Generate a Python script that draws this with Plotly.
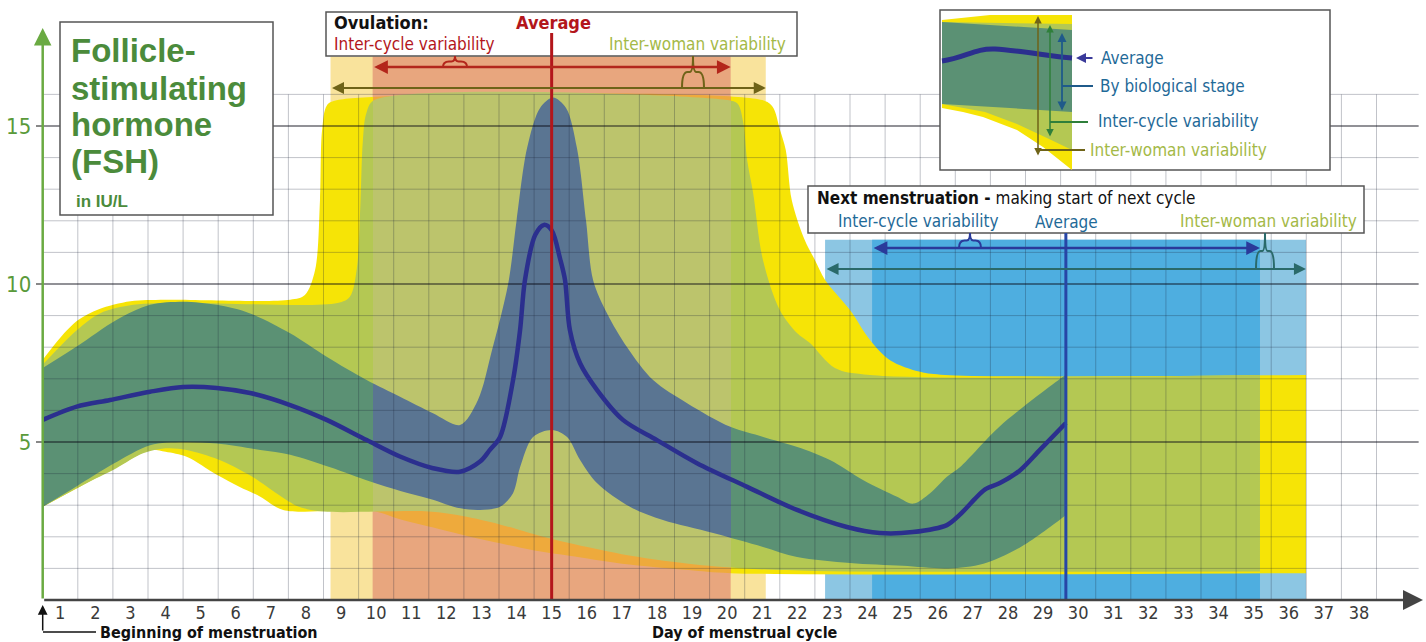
import plotly.graph_objects as go

W, H = 1426, 642
# data-axis ranges chosen so the whole figure is the plotting area
X_LEFT, X_RIGHT = -0.7165, 39.910
Y_BOT, Y_TOP = -1.3291, 18.987

# ---------------- DATA ----------------
days = list(range(1, 39))
y_ticks = [5, 10, 15]

# Average FSH level
avg_x = [0.5, 1.47, 2.42, 3.56, 4.5, 5.46, 6.41, 7.55, 8.59, 9.73, 10.68, 11.62, 12.39, 12.96, 13.24,
         13.53, 13.9, 14.1, 14.24, 14.53, 14.78, 15.0, 15.24, 15.38, 15.52, 15.81, 16.29, 17.03, 18.0,
         19.14, 20.57, 21.99, 23.41, 24.35, 25.29, 26.26, 26.63, 27.06, 27.35, 27.77, 28.34, 28.91, 29.65]
avg_y = [5.70, 6.12, 6.33, 6.59, 6.74, 6.71, 6.55, 6.17, 5.70, 5.06, 4.54, 4.17, 4.06, 4.38, 4.75,
         5.16, 6.96, 8.54, 10.13, 11.55, 11.87, 11.7, 10.8, 10.13, 8.54, 7.49, 6.65, 5.70, 5.06,
         4.33, 3.58, 2.85, 2.31, 2.12, 2.15, 2.37, 2.7, 3.2, 3.5, 3.7, 4.1, 4.75, 5.6]

# By biological stage (dark band)
bio_up_x = [0.5, 1.47, 2.6, 3.56, 4.5, 5.46, 6.41, 7.55, 8.59, 9.73, 10.68, 11.62, 12.39, 12.9, 13.3,
            13.76, 14.0, 14.3, 14.67, 15.04, 15.41, 15.72, 15.98, 16.18, 16.58, 17.15, 17.89, 18.86,
            20.09, 21.03, 22.0, 22.93, 23.87, 24.84, 25.3, 25.78, 26.26, 26.63, 27.77, 29.55, 29.65]
bio_up_y = [7.34, 8.02, 8.86, 9.34, 9.44, 9.34, 9.07, 8.44, 7.70, 6.96, 6.43, 5.91, 5.54, 6.33, 7.9,
            10.0, 12.0, 14.3, 15.57, 15.9, 15.57, 14.3, 12.0, 10.13, 9.07, 8.0, 6.96, 6.23,
            5.48, 5.16, 4.84, 4.43, 3.8, 3.27, 3.05, 3.38, 3.9, 4.2, 5.5, 7.05, 7.12]
bio_lo_x = [0.5, 1.47, 2.5, 3.56, 4.5, 5.46, 6.7, 7.55, 8.69, 9.83, 10.69, 11.54, 12.4, 12.96, 13.53,
            13.9, 14.1, 14.47, 15.01, 15.44, 15.81, 16.29, 17.23, 18.17, 19.6, 21.02, 21.99, 23.5,
            25.0, 26.3, 27.3, 28.4, 29.55, 29.65]
bio_lo_y = [2.95, 3.6, 4.3, 4.9, 5.0, 4.95, 4.75, 4.6, 4.2, 3.75, 3.45, 3.2, 2.9, 2.85, 2.95,
            3.38, 4.2, 5.16, 5.38, 5.16, 4.43, 3.7, 2.95, 2.53, 2.12, 1.68, 1.36, 1.17,
            1.08, 1.0, 1.15, 1.7, 2.6, 2.7]

# Inter-cycle variability (light green)
cyc_up_x = [0.5, 1.47, 2.13, 3.08, 4.5, 8.9, 9.25, 9.45, 9.55, 9.62, 9.72, 9.95, 20.0, 20.3, 20.46,
            20.57, 20.74, 21.02, 21.5, 21.99, 22.36, 23.07, 24.07, 35.18]
cyc_up_y = [7.45, 8.54, 9.07, 9.34, 9.4, 9.4, 9.6, 10.5, 12.5, 14.5, 15.4, 15.82, 15.82, 15.7, 15.1,
            13.92, 12.88, 10.76, 9.18, 8.45, 8.13, 7.34, 7.12, 7.12]
cyc_lo_x = [0.5, 1.65, 2.6, 3.36, 4.0, 4.6, 5.5, 6.4, 7.2, 7.8, 8.5, 11.5, 12.5, 13.5, 14.6, 15.5,
            17.0, 18.9, 20.5, 22.5, 35.18]
cyc_lo_y = [2.95, 3.64, 4.17, 4.64, 4.8, 4.75, 4.45, 3.95, 3.35, 2.95, 2.8, 2.8, 2.65, 2.4, 2.05, 1.8,
            1.45, 1.15, 1.0, 0.92, 0.9]

# Inter-woman variability (yellow)
wom_up_x = [0.5, 1.0, 1.5, 2.1, 3.0, 4.0, 7.55, 7.97, 8.26, 8.4, 8.46, 8.6, 8.9, 21.0, 21.3, 21.5,
            21.67, 21.84, 22.21, 22.5, 22.79, 23.5, 24.07, 24.64, 25.5, 26.2, 36.49]
wom_up_y = [7.6, 8.3, 8.85, 9.2, 9.45, 9.5, 9.5, 9.65, 10.44, 12.66, 14.87, 15.66, 15.82, 15.82, 15.6, 14.9,
            14.24, 12.66, 11.39, 10.76, 10.13, 9.18, 8.23, 7.59, 7.22, 7.12, 7.12]
wom_lo_x = [0.5, 1.65, 2.6, 3.56, 4.0, 4.6, 5.46, 6.1, 6.7, 7.35, 9.9, 10.7, 11.6, 12.5, 13.5, 14.6,
            15.5, 17.0, 18.9, 20.1, 36.49]
wom_lo_y = [2.95, 3.64, 4.2, 4.75, 4.69, 4.53, 3.96, 3.58, 3.27, 2.85, 2.82, 2.55, 2.3, 2.05, 1.8, 1.55,
            1.4, 1.15, 0.95, 0.85, 0.85]

# Ovulation and next menstruation timing
ovulation_avg = 15.0
ovulation_cycle = [9.9, 20.1]
ovulation_woman = [8.7, 21.1]
menses_avg = 29.65
menses_cycle = [24.13, 35.18]
menses_woman = [22.79, 36.49]
ovulation_band_top = 17.2
menses_band_top = 11.4

# ---------------- STYLE ----------------
NARROW = "Liberation Sans Narrow, Arial Narrow, DejaVu Sans Condensed, Roboto, sans-serif"
BOLDF = "Liberation Sans, Arial, sans-serif"
YELLOW, YELLOW_IN = "#f6e406", "#eeaa3c"
GREEN, GREEN_IN = "#b4c853", "#bcc46c"
DARK, DARK_IN = "#5b9174", "#5a7592"
AVG = "#2b2f8e"
RED = "#b3161b"
BLUE_LINE = "#2746a6"
TEAL_TXT = "#1f6a98"
OLIVE_TXT = "#a4b947"
TITLE_GREEN = "#4b8b3b"


def px_x(p):
    return p / W


def px_y(p):
    return 1 - p / H


def dx(p):  # pixel -> data x
    return X_LEFT + p / W * (X_RIGHT - X_LEFT)


def dy(p):  # pixel -> data y
    return Y_TOP - p / H * (Y_TOP - Y_BOT)


def gradient(inner, outer, x0, x1, start, stop):
    f1 = (x0 - start) / (stop - start)
    f2 = (x1 - start) / (stop - start)
    return dict(type="horizontal", start=start, stop=stop,
                colorscale=[[0, outer], [f1 - 1e-4, outer], [f1, inner], [f2, inner],
                            [f2 + 1e-4, outer], [1, outer]])


fig = go.Figure()


def band(xu, yu, xl, yl, color, grad, smooth=0.9):
    fig.add_trace(go.Scatter(
        x=xl, y=yl, mode="lines", line=dict(width=0, shape="spline", smoothing=smooth, color=color),
        hoverinfo="skip", showlegend=False))
    fig.add_trace(go.Scatter(
        x=xu, y=yu, mode="lines", fill="tonexty",
        line=dict(width=0, shape="spline", smoothing=smooth, color=color),
        fillcolor=color, fillgradient=grad, hoverinfo="skip", showlegend=False))


band(wom_up_x, wom_up_y, wom_lo_x, wom_lo_y, YELLOW,
     gradient(YELLOW_IN, YELLOW, ovulation_cycle[0], ovulation_cycle[1], wom_up_x[0], wom_up_x[-1]))
band(cyc_up_x, cyc_up_y, cyc_lo_x, cyc_lo_y, GREEN,
     gradient(GREEN_IN, GREEN, ovulation_cycle[0], ovulation_cycle[1], cyc_up_x[0], cyc_up_x[-1]))
band(bio_up_x, bio_up_y, bio_lo_x, bio_lo_y, DARK,
     gradient(DARK_IN, DARK, ovulation_cycle[0], ovulation_cycle[1], bio_up_x[0], bio_up_x[-1]))

# grid (drawn above the bands)
gx, gy, mx, my = [], [], [], []
for d in days:
    gx += [d + 0.5, d + 0.5, None]
    gy += [0, 16, None]
for v in range(1, 17):
    if v in y_ticks:
        mx += [0.5, 39.7, None]
        my += [v, v, None]
    else:
        gx += [0.5, 39.7, None]
        gy += [v, v, None]
fig.add_trace(go.Scatter(x=gx, y=gy, mode="lines", line=dict(color="rgba(25,35,55,0.27)", width=1),
                         hoverinfo="skip", showlegend=False))
fig.add_trace(go.Scatter(x=mx, y=my, mode="lines", line=dict(color="rgba(10,10,20,0.6)", width=1.6),
                         hoverinfo="skip", showlegend=False))

# average curve
fig.add_trace(go.Scatter(x=avg_x, y=avg_y, mode="lines",
                         line=dict(color=AVG, width=4.5, shape="spline", smoothing=0.9),
                         hoverinfo="skip", showlegend=False))

shapes = []
# background timing rectangles
shapes.append(dict(type="rect", xref="x", yref="y", x0=ovulation_woman[0], x1=ovulation_woman[1],
                   y0=0, y1=ovulation_band_top, fillcolor="#f9e39c", line_width=0, layer="below"))
shapes.append(dict(type="rect", xref="x", yref="y", x0=ovulation_cycle[0], x1=ovulation_cycle[1],
                   y0=0, y1=ovulation_band_top, fillcolor="#e8a67e", line_width=0, layer="below"))
shapes.append(dict(type="rect", xref="x", yref="y", x0=menses_woman[0], x1=menses_woman[1],
                   y0=0, y1=menses_band_top, fillcolor="#8cc6e3", line_width=0, layer="below"))
shapes.append(dict(type="rect", xref="x", yref="y", x0=menses_cycle[0], x1=menses_cycle[1],
                   y0=0, y1=menses_band_top, fillcolor="#4eaee0", line_width=0, layer="below"))


def box(x0, y0, x1, y1, lw=1.5):
    shapes.append(dict(type="rect", xref="paper", yref="paper", x0=px_x(x0), x1=px_x(x1),
                       y0=px_y(y1), y1=px_y(y0), fillcolor="white", line=dict(color="#555", width=lw),
                       layer="above"))


def path(points, color, width=0, fill=None, close=False):
    s = "M " + " L ".join(f"{px_x(a):.5f},{px_y(b):.5f}" for a, b in points)
    if close:
        s += " Z"
    d = dict(type="path", xref="paper", yref="paper", path=s, layer="above",
             line=dict(color=color, width=width))
    if fill:
        d["fillcolor"] = fill
    shapes.append(d)


def brace(xc, ya, yt, hw, color, width=2):
    ym = (ya + yt) / 2
    r = hw * 0.5

    def P(a, b):
        return f"{px_x(a):.5f},{px_y(b):.5f}"
    s = (f"M {P(xc-hw, ya)} Q {P(xc-hw, ym)} {P(xc-hw+r, ym)} L {P(xc-r*0.6, ym)} Q {P(xc, ym)} {P(xc, yt)} "
         f"M {P(xc+hw, ya)} Q {P(xc+hw, ym)} {P(xc+hw-r, ym)} L {P(xc+r*0.6, ym)} Q {P(xc, ym)} {P(xc, yt)}")
    shapes.append(dict(type="path", xref="paper", yref="paper", path=s, layer="above",
                       line=dict(color=color, width=width)))


# boxes
box(60, 22, 273, 215)
box(326, 12, 797, 56)
box(808, 186, 1364, 233)
box(940, 10, 1330, 170)

# average vertical lines
shapes.append(dict(type="line", xref="x", yref="y", x0=ovulation_avg, x1=ovulation_avg, y0=0, y1=dy(33),
                   line=dict(color=RED, width=3), layer="above"))
shapes.append(dict(type="line", xref="x", yref="y", x0=menses_avg, x1=menses_avg, y0=0, y1=dy(233),
                   line=dict(color=BLUE_LINE, width=3), layer="above"))

# braces
brace(455, 67, 56, 12, "#b3261b", 2)
brace(693, 88, 56, 11, "#6f6318", 2)
brace(970, 248, 233, 11, "#2a3a9a", 2)
brace(1265, 269, 233, 9, "#2a6a6a", 2)

# legend mini figure
path([(942, 20), (990, 15), (1072, 15), (1072, 170), (1043, 147), (1017, 130), (983, 117), (963, 112), (942, 108)],
     YELLOW, 0, YELLOW, True)
path([(942, 22), (1072, 24), (1072, 150), (1047, 138), (1017, 124), (985, 112), (942, 104)],
     GREEN, 0, GREEN, True)
path([(942, 22), (1072, 30), (1072, 112), (1010, 108), (942, 104)], DARK, 0, DARK, True)
shapes.append(dict(type="path", xref="paper", yref="paper", layer="above",
                   path=(f"M {px_x(942):.5f},{px_y(61):.5f} C {px_x(965):.5f},{px_y(58):.5f} "
                         f"{px_x(975):.5f},{px_y(48):.5f} {px_x(995):.5f},{px_y(49):.5f} "
                         f"S {px_x(1050):.5f},{px_y(56):.5f} {px_x(1072):.5f},{px_y(58):.5f}"),
                   line=dict(color=AVG, width=5)))
path([(1038, 150), (1085, 150)], "#6f6318", 2)
path([(1050, 122), (1088, 122)], "#2f7f3a", 2)
path([(1062, 86), (1093, 86)], "#1f5a8a", 2)
path([(43, 632), (96, 632)], "#111", 1.5)

ann = []


def text(x, y, t, color, size, anchor="left", family=NARROW):
    ann.append(dict(xref="paper", yref="paper", x=px_x(x), y=px_y(y), text=t, showarrow=False,
                    xanchor=anchor, yanchor="middle", font=dict(color=color, size=size, family=family)))


def darrow(x0, x1, y, color, width=2, size=1.2):
    ann.append(dict(xref="x", yref="y", axref="x", ayref="y", x=x1, y=y, ax=x0, ay=y, text="",
                    showarrow=True, arrowhead=2, startarrowhead=2, arrowside="end+start",
                    arrowsize=size, startarrowsize=size, arrowwidth=width, arrowcolor=color,
                    standoff=0, startstandoff=0))


def parrow(xh, yh, dxp, dyp, color, width=2, size=1.0, both=False):
    ann.append(dict(xref="paper", yref="paper", x=px_x(xh), y=px_y(yh), ax=dxp, ay=dyp, text="",
                    showarrow=True, arrowhead=2, startarrowhead=2,
                    arrowside="end+start" if both else "end",
                    arrowsize=size, startarrowsize=size, arrowwidth=width, arrowcolor=color,
                    standoff=0, startstandoff=0))


# timing arrows
darrow(ovulation_cycle[0], ovulation_cycle[1], dy(67), "#b3261b", 2.5, 1.1)
darrow(ovulation_woman[0], ovulation_woman[1], dy(88), "#6f6318", 2, 1.2)
darrow(menses_cycle[0], menses_cycle[1], dy(248), "#2a3a9a", 2.5, 1.1)
darrow(menses_woman[0], menses_woman[1], dy(269), "#2a6a6a", 2, 1.2)

# axes arrows
ann.append(dict(xref="x", yref="y", axref="x", ayref="y", x=dx(1423), y=0, ax=0.5, ay=0, text="",
                showarrow=True, arrowhead=2, arrowsize=1.6, arrowwidth=2.5, arrowcolor="#444"))
ann.append(dict(xref="x", yref="y", axref="x", ayref="y", x=0.5, y=dy(28), ax=0.5, ay=0, text="",
                showarrow=True, arrowhead=2, arrowsize=1.4, arrowwidth=2.5, arrowcolor="#6aaa42"))
ann.append(dict(xref="x", yref="y", axref="x", ayref="y", x=0.5, y=dy(605), ax=0.5, ay=dy(632), text="",
                showarrow=True, arrowhead=2, arrowsize=1.3, arrowwidth=1.5, arrowcolor="#111"))

# legend arrows
parrow(1038, 16, 0, 141, "#6f6318", 1.5, 1.0, True)
parrow(1050, 25, 0, 113, "#2f7f3a", 1.5, 1.0, True)
parrow(1062, 33, 0, 79, "#1f5a8a", 1.8, 1.0, True)
parrow(1076, 58, 18, 0, "#3a3a9a", 2, 1.0)

# texts
for t, yy in [("Follicle-", 50), ("stimulating", 88), ("hormone", 125), ("(FSH)", 162)]:
    text(69, yy, f"<b>{t}</b>", TITLE_GREEN, 33, family=BOLDF)
text(74, 201, "<b>in IU/L</b>", TITLE_GREEN, 17, family=BOLDF)

text(332, 22, "<b>Ovulation:</b>", "#111", 18)
text(553, 22, "<b>Average</b>", RED, 18, "center")
text(332, 44, "Inter-cycle variability", RED, 17)
text(788, 44, "Inter-woman variability", OLIVE_TXT, 17, "right")

text(815, 198, "<b>Next menstruation -</b> making start of next cycle", "#111", 17)
text(836, 221, "Inter-cycle variability", TEAL_TXT, 17)
text(1066, 222, "Average", TEAL_TXT, 17, "center")
text(1359, 221, "Inter-woman variability", OLIVE_TXT, 17, "right")

text(1099, 58, "Average", TEAL_TXT, 17)
text(1098, 86, "By biological stage", TEAL_TXT, 17)
text(1096, 121, "Inter-cycle variability", TEAL_TXT, 17)
text(1088, 150, "Inter-woman variability", OLIVE_TXT, 17)

text(98, 632, "<b>Beginning of menstruation</b>", "#111", 16)
text(745, 632, "<b>Day of menstrual cycle</b>", "#111", 16, "center")

fig.update_layout(
    shapes=shapes, annotations=ann,
    width=W, height=H, margin=dict(l=0, r=0, t=0, b=0),
    paper_bgcolor="white", plot_bgcolor="white",
    xaxis=dict(range=[X_LEFT, X_RIGHT], tickvals=days, ticktext=[str(d) for d in days],
               anchor="free", position=1 - 600 / H, showgrid=False, zeroline=False, showline=False,
               ticks="", tickfont=dict(family=NARROW, size=18, color="#3a3a3a"), fixedrange=True),
    yaxis=dict(range=[Y_BOT, Y_TOP], tickvals=y_ticks, ticktext=[str(v) for v in y_ticks],
               anchor="free", position=42.7 / W, showgrid=False, zeroline=False, showline=False,
               ticks="outside", ticklen=7, tickcolor="#888", tickwidth=1.5,
               tickfont=dict(family=NARROW, size=22, color="#5a9a3a"), fixedrange=True),
    showlegend=False,
)

fig.write_html("out.html", config={"displayModeBar": False},
               post_script="document.body.style.margin='0';document.body.style.overflow='hidden';")
